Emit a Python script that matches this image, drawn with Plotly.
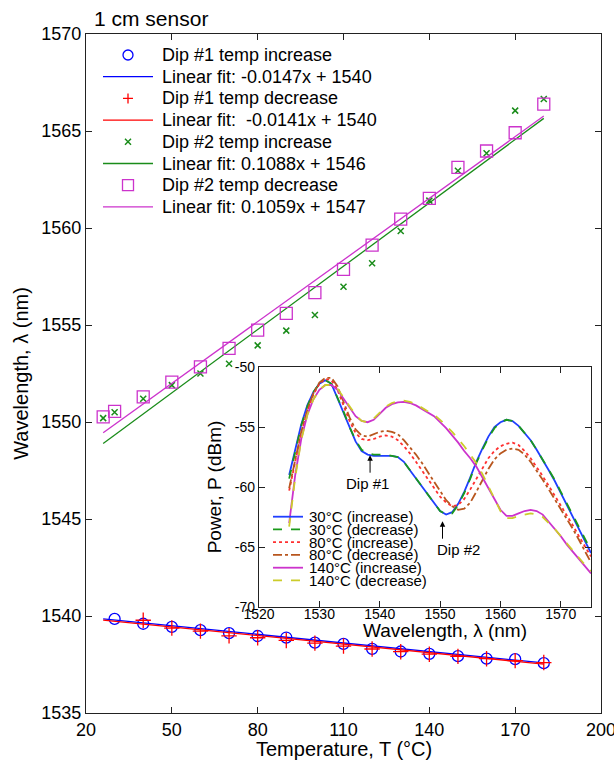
import plotly.graph_objects as go

# ---------------- data: main panel ----------------
T_dip1_inc = [30, 40, 50, 60, 70, 80, 90, 100, 110, 120, 130, 140, 150, 160, 170, 180]
L_dip1_inc = [1539.85, 1539.60, 1539.44, 1539.27, 1539.12, 1538.97, 1538.89, 1538.63,
              1538.56, 1538.31, 1538.17, 1538.05, 1537.93, 1537.80, 1537.78, 1537.57]
T_dip1_dec = [40, 50, 60, 70, 80, 90, 100, 110, 120, 130, 140, 150, 160, 170, 180]
L_dip1_dec = [1539.78, 1539.38, 1539.22, 1538.98, 1538.88, 1538.74, 1538.60, 1538.45,
              1538.30, 1538.16, 1538.03, 1537.92, 1537.80, 1537.70, 1537.60]
T_dip2 = [26, 30, 40, 50, 60, 70, 80, 90, 100, 110, 120, 130, 140, 150, 160, 170, 180]
L_dip2_inc = [1550.20, 1550.50, 1551.20, 1551.90, 1552.50, 1553.00, 1553.95, 1554.71, 1555.52,
              1556.97, 1558.18, 1559.85, 1561.41, 1562.95, 1563.85, 1566.05, 1566.65]
L_dip2_dec = [1550.26, 1550.55, 1551.30, 1552.06, 1552.84, 1553.80, 1554.74, 1555.60, 1556.67,
              1557.87, 1559.12, 1560.46, 1561.53, 1563.13, 1563.97, 1564.91, 1566.39]
fit_T = [26, 180]
fit_dip1_inc = [1539.85, 1537.58]
fit_dip1_dec = [1539.79, 1537.52]
fit_dip2_inc = [1548.89, 1565.65]
fit_dip2_dec = [1549.45, 1565.77]

legend_labels = ["Dip #1 temp increase", "Linear fit: -0.0147x + 1540",
                 "Dip #1 temp decrease", "Linear fit:  -0.0141x + 1540",
                 "Dip #2 temp increase", "Linear fit: 0.1088x + 1546",
                 "Dip #2 temp decrease", "Linear fit: 0.1059x + 1547"]
x_ticks = [20, 50, 80, 110, 140, 170, 200]
y_ticks = [1535, 1540, 1545, 1550, 1555, 1560, 1565, 1570]

# ---------------- data: inset spectra ----------------
wl = list(range(1525, 1576))
P30_inc = [-59.0, -56.8, -54.8, -53.2, -52.1, -51.4, -51.1, -51.4, -52.6, -53.8,
           -55.1, -56.2, -57.0, -57.3, -57.4, -57.4, -57.4, -57.4, -57.5, -57.9,
           -58.6, -59.3, -60.0, -60.7, -61.4, -62.0, -62.3, -62.1, -61.4, -60.4,
           -59.2, -57.9, -56.8, -55.8, -55.0, -54.6, -54.4, -54.5, -54.9, -55.5,
           -56.1, -56.9, -57.7, -58.6, -59.5, -60.5, -61.5, -62.5, -63.5, -64.5, -65.5]
P30_dec = [-59.3, -57.0, -54.9, -53.3, -52.1, -51.4, -51.1, -51.4, -52.5, -53.7,
           -55.0, -56.1, -56.9, -57.2, -57.3, -57.3, -57.3, -57.4, -57.5, -57.9,
           -58.6, -59.3, -60.0, -60.7, -61.4, -62.0, -62.3, -62.2, -61.5, -60.5,
           -59.3, -58.0, -56.9, -55.9, -55.1, -54.6, -54.4, -54.5, -54.9, -55.5,
           -56.1, -56.9, -57.7, -58.5, -59.4, -60.4, -61.4, -62.4, -63.4, -64.4, -65.3]
P80_inc = [-60.3, -57.8, -55.5, -53.7, -52.3, -51.4, -51.0, -51.1, -51.9, -53.2,
           -54.5, -55.5, -56.0, -56.1, -56.0, -55.8, -55.7, -55.8, -56.1, -56.6,
           -57.2, -57.9, -58.6, -59.4, -60.1, -60.8, -61.3, -61.6, -61.5, -61.0,
           -60.2, -59.3, -58.4, -57.6, -57.0, -56.6, -56.4, -56.3, -56.5, -57.0,
           -57.6, -58.3, -59.1, -59.9, -60.7, -61.5, -62.4, -63.2, -64.1, -64.9, -65.8]
P80_dec = [-60.1, -57.6, -55.4, -53.6, -52.2, -51.3, -50.9, -50.9, -51.6, -52.9,
           -54.2, -55.2, -55.7, -55.8, -55.6, -55.4, -55.3, -55.4, -55.6, -56.1,
           -56.7, -57.3, -58.0, -58.8, -59.6, -60.4, -61.1, -61.6, -61.9, -61.8,
           -61.3, -60.4, -59.4, -58.5, -57.7, -57.2, -56.9, -56.8, -56.9, -57.3,
           -57.9, -58.6, -59.4, -60.2, -61.0, -61.9, -62.7, -63.5, -64.4, -65.3, -66.3]
P140_inc = [-63.0, -59.0, -56.0, -54.0, -52.7, -51.9, -51.5, -51.5, -51.9, -52.6,
            -53.4, -54.1, -54.5, -54.6, -54.4, -53.9, -53.4, -53.1, -52.95, -52.9,
            -53.0, -53.2, -53.5, -53.8, -54.1, -54.6, -55.1, -55.7, -56.3, -57.0,
            -57.6, -58.3, -59.2, -60.1, -61.1, -61.9, -62.4, -62.4, -62.2, -62.0,
            -61.9, -62.0, -62.3, -62.9, -63.5, -64.1, -64.8, -65.4, -66.0, -66.6, -67.2]
P140_dec = [-63.3, -59.2, -56.1, -54.0, -52.7, -51.9, -51.5, -51.5, -51.8, -52.5,
            -53.3, -54.0, -54.5, -54.6, -54.3, -53.8, -53.3, -53.0, -52.85, -52.8,
            -52.9, -53.1, -53.4, -53.7, -54.0, -54.4, -54.9, -55.4, -56.0, -56.6,
            -57.3, -58.0, -58.9, -59.9, -61.0, -62.0, -62.6, -62.6, -62.4, -62.3,
            -62.2, -62.3, -62.5, -63.0, -63.5, -64.1, -64.7, -65.3, -65.9, -66.5, -67.0]
inset_labels = ["30°C (increase)", "30°C (decrease)", "80°C (increase)",
                "80°C (decrease)", "140°C (increase)", "140°C (decrease)"]
inset_x_ticks = [1520, 1530, 1540, 1550, 1560, 1570]
inset_y_ticks = [-70, -65, -60, -55, -50]
dip1_tip = (1538.4, -57.35)
dip2_tip = (1550.4, -62.85)

# ---------------- styles ----------------
FONT = "Arial, Liberation Sans, sans-serif"
BLUE, RED, GREEN, MAG = "#0000ff", "#ff0000", "#1a8c1a", "#cc33cc"
IN_COL = ["#1f3fff", "#1a9a1a", "#ff3030", "#b8561e", "#cc33cc", "#cccc2a"]
IN_DASH = ["solid", "dash", "dot", "dashdot", "solid", "dash"]

W, H = 614, 763
ML, MR, MT, MB = 86, 13, 34, 50
PW, PH = W - ML - MR, H - MT - MB


def px(xp):
    return (xp - ML) / PW


def py(yp):
    return (H - MB - yp) / PH


fig = go.Figure()

# main panel traces
fig.add_trace(go.Scatter(x=T_dip1_inc, y=L_dip1_inc, mode="markers",
                         marker=dict(symbol="circle-open", size=11, color=BLUE, line=dict(width=1.3))))
fig.add_trace(go.Scatter(x=fit_T, y=fit_dip1_inc, mode="lines", line=dict(color=BLUE, width=1.3)))
fig.add_trace(go.Scatter(x=T_dip1_dec, y=L_dip1_dec, mode="markers",
                         marker=dict(symbol="cross-thin-open", size=11, color=RED, line=dict(width=1.3, color=RED))))
fig.add_trace(go.Scatter(x=fit_T, y=fit_dip1_dec, mode="lines", line=dict(color=RED, width=1.3)))
fig.add_trace(go.Scatter(x=T_dip2, y=L_dip2_inc, mode="markers",
                         marker=dict(symbol="x-thin-open", size=6, color=GREEN, line=dict(width=1.5, color=GREEN))))
fig.add_trace(go.Scatter(x=fit_T, y=fit_dip2_inc, mode="lines", line=dict(color=GREEN, width=1.3)))
fig.add_trace(go.Scatter(x=T_dip2, y=L_dip2_dec, mode="markers",
                         marker=dict(symbol="square-open", size=12, color=MAG, line=dict(width=1.3))))
fig.add_trace(go.Scatter(x=fit_T, y=fit_dip2_dec, mode="lines", line=dict(color=MAG, width=1.3)))

# inset traces
for P, c, d in zip([P30_inc, P30_dec, P80_inc, P80_dec, P140_inc, P140_dec], IN_COL, IN_DASH):
    fig.add_trace(go.Scatter(x=wl, y=P, mode="lines", xaxis="x2", yaxis="y2",
                             line=dict(color=c, width=1.8, dash=d)))

fig.update_traces(showlegend=False, hoverinfo="skip")

shapes = []
annots = []

# ---- main legend (drawn manually to match the tight MATLAB spacing) ----
leg_kinds = [("m", "circle", BLUE), ("l", None, BLUE), ("m", "plus", RED), ("l", None, RED),
             ("m", "x", GREEN), ("l", None, GREEN), ("m", "square", MAG), ("l", None, MAG)]
for i, (lab, (kind, sym, col)) in enumerate(zip(legend_labels, leg_kinds)):
    yc = 55 + 21.7 * i
    if kind == "l":
        shapes.append(dict(type="line", xref="paper", yref="paper", x0=px(103), x1=px(153),
                           y0=py(yc), y1=py(yc), line=dict(color=col, width=1.3)))
    else:
        base = dict(xref="paper", yref="paper", xsizemode="pixel", ysizemode="pixel",
                    xanchor=px(128), yanchor=py(yc), line=dict(color=col, width=1.3))
        if sym == "circle":
            shapes.append(dict(type="circle", x0=-5, x1=5, y0=-5, y1=5, **base))
        elif sym == "square":
            shapes.append(dict(type="rect", x0=-5.5, x1=5.5, y0=-5.5, y1=5.5, **base))
        elif sym == "plus":
            shapes.append(dict(type="path", path="M-5,0 L5,0 M0,-5 L0,5", **base))
        else:
            b = dict(base)
            b["line"] = dict(color=col, width=1.5)
            shapes.append(dict(type="path", path="M-3,-3 L3,3 M-3,3 L3,-3", **b))
    annots.append(dict(text=lab, xref="paper", yref="paper", x=px(160), y=py(yc),
                       xanchor="left", yanchor="middle", showarrow=False,
                       font=dict(size=18, color="black", family=FONT)))

# ---- inset legend ----
for i, (lab, c, d) in enumerate(zip(inset_labels, IN_COL, IN_DASH)):
    yc = 516.7 + 12.75 * i
    shapes.append(dict(type="line", xref="paper", yref="paper", x0=px(273), x1=px(303),
                       y0=py(yc), y1=py(yc), line=dict(color=c, width=1.8, dash=d)))
    annots.append(dict(text=lab, xref="paper", yref="paper", x=px(307), y=py(yc),
                       xanchor="left", yanchor="middle", showarrow=False,
                       font=dict(size=15, color="black", family=FONT)))

# ---- dip arrows ----
for (tx, ty), label, dx in [(dip1_tip, "Dip #1", -3), (dip2_tip, "Dip #2", 16)]:
    annots.append(dict(x=tx, y=ty, xref="x2", yref="y2", ax=0, ay=19, text="",
                       showarrow=True, arrowhead=2, arrowsize=1.1, arrowwidth=1, arrowcolor="black"))
    annots.append(dict(x=tx, y=ty, xref="x2", yref="y2", text=label, showarrow=False,
                       xshift=dx, yshift=-28, font=dict(size=15, color="black", family=FONT)))

# title
annots.append(dict(text="1 cm sensor", xref="paper", yref="paper", x=px(92), y=py(18),
                   xanchor="left", yanchor="middle", showarrow=False,
                   font=dict(size=21, color="black", family=FONT)))
# main x title
annots.append(dict(text="Temperature, T (°C)", xref="paper", yref="paper", x=px(344), y=py(749),
                   xanchor="center", yanchor="middle", showarrow=False,
                   font=dict(size=20, color="black", family=FONT)))
# inset x title (MATLAB places it right of centre)
annots.append(dict(text="Wavelength, λ (nm)", xref="paper", yref="paper", x=px(445), y=py(630),
                   xanchor="center", yanchor="middle", showarrow=False,
                   font=dict(size=19, color="black", family=FONT)))

axis_common = dict(showline=True, linecolor="#222", linewidth=1.2, mirror="ticks",
                   ticks="inside", ticklen=6, tickwidth=1, tickcolor="#222",
                   showgrid=False, zeroline=False, ticklabeloverflow="allow")

fig.update_layout(
    width=W, height=H, autosize=False,
    margin=dict(l=ML, r=MR, t=MT, b=MB),
    paper_bgcolor="white", plot_bgcolor="white",
    font=dict(family=FONT, color="black"),
    showlegend=False,
    xaxis=dict(range=[20, 200], tickvals=x_ticks, tickfont=dict(size=18),
               ticklabelstandoff=0, automargin=False, **axis_common),
    yaxis=dict(range=[1535, 1570], tickvals=y_ticks, tickfont=dict(size=18),
               title=dict(text="Wavelength, λ (nm)", font=dict(size=20), standoff=7),
               automargin=False, **axis_common),
    xaxis2=dict(domain=[px(259), px(591)], anchor="y2", range=[1520, 1575],
                tickvals=inset_x_ticks, tickfont=dict(size=14), ticklabelstandoff=-6,
                automargin=False, **axis_common),
    yaxis2=dict(domain=[py(607), py(367)], anchor="x2", range=[-70, -50],
                tickvals=inset_y_ticks, ticktext=[str(v) for v in inset_y_ticks],
                tickfont=dict(size=14),
                title=dict(text="Power, P (dBm)", font=dict(size=19), standoff=8),
                automargin=False, **axis_common),
    shapes=shapes,
    annotations=annots,
)

fig.write_html("out.html", config={"displayModeBar": False, "staticPlot": True},
               post_script="document.body.style.margin='0px';document.body.style.padding='0px';")
